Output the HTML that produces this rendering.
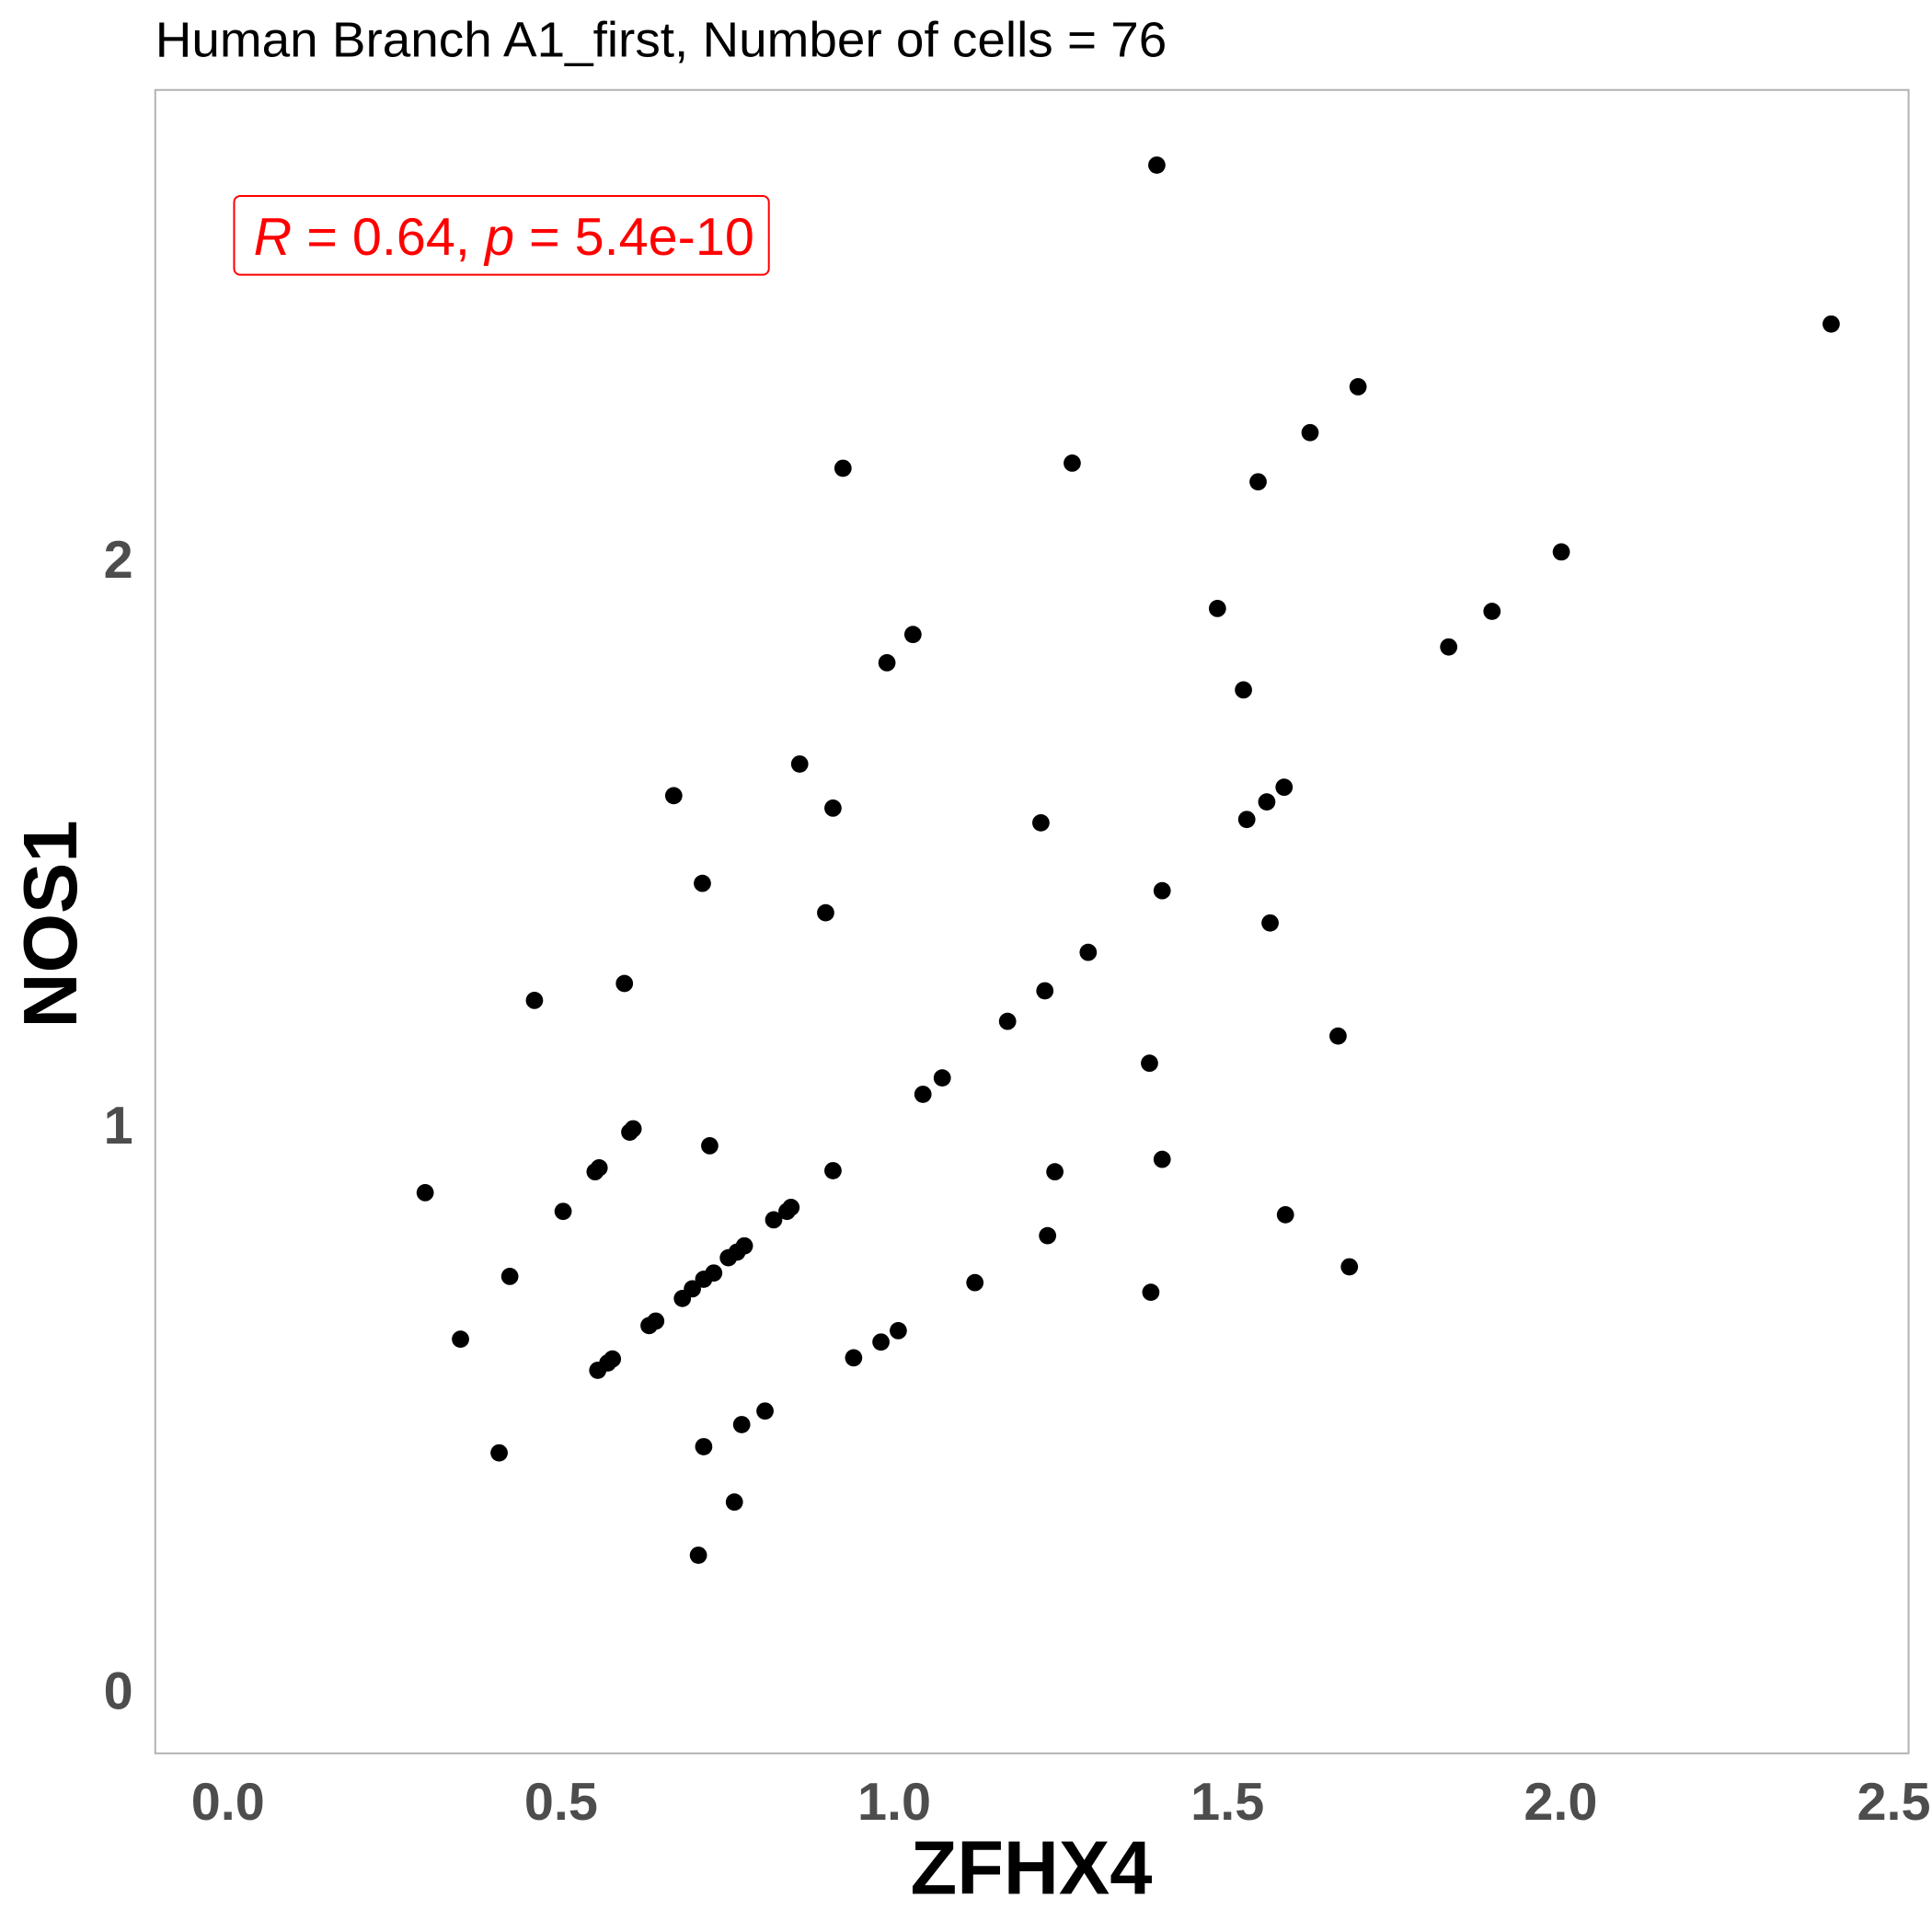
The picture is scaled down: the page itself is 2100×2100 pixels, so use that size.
<!DOCTYPE html>
<html><head><meta charset="utf-8"><style>
html,body{margin:0;padding:0;background:#fff;}
svg{display:block;font-family:"Liberation Sans",Arial,sans-serif;}
</style></head><body>
<svg id="chart" width="2100" height="2100" viewBox="0 0 1568 1568">
<text x="126" y="46" font-size="40" fill="#000" textLength="821" lengthAdjust="spacingAndGlyphs">Human Branch A1_first, Number of cells = 76</text>
<rect x="126" y="73" width="1423" height="1350" fill="none" stroke="#b3b3b3" stroke-width="1.5"/>
<g id="xticks"></g>
<g id="yticks"></g>
<g id="points"></g>
<text x="837" y="1537" font-size="62" font-weight="bold" text-anchor="middle" fill="#000">ZFHX4</text>
<text transform="translate(62,750) rotate(-90)" font-size="62" font-weight="bold" text-anchor="middle" fill="#000">NOS1</text>
<g>
<rect x="190" y="159" width="434" height="64" rx="5" fill="#fff" stroke="#ff0000" stroke-width="1.5"/>
<text x="409" y="207" font-size="43" fill="#ff0000" text-anchor="middle"><tspan font-style="italic">R</tspan> = 0.64, <tspan font-style="italic">p</tspan> = 5.4e-10</text>
</g>
</svg>
<script>
const xTickVals = [0, 0.5, 1, 1.5, 2, 2.5];
const xTickLabels = ["0.0", "0.5", "1.0", "1.5", "2.0", "2.5"];
const yTickVals = [0, 1, 2];
const yTickLabels = ["0", "1", "2"];
const zfhx4 = [1.394,2.406,1.696,1.624,0.923,1.267,1.546,2.001,1.485,1.897,1.028,0.989,1.832,1.524,0.858,0.669,0.908,1.585,1.559,1.529,1.220,0.712,1.402,0.897,1.564,1.291,0.595,0.460,1.226,1.170,1.666,1.383,1.072,1.043,0.608,0.603,0.723,1.402,0.908,1.241,0.557,0.551,0.296,0.503,0.845,0.839,0.819,1.587,0.775,0.764,0.751,1.230,1.683,0.729,0.714,0.697,0.682,0.423,1.121,1.385,0.642,0.632,1.006,0.980,0.349,0.939,0.577,0.570,0.555,0.806,0.771,0.714,0.407,0.760,0.706];
const nos1 = [2.695,2.414,2.303,2.222,2.159,2.168,2.135,2.011,1.911,1.906,1.865,1.815,1.843,1.767,1.636,1.580,1.558,1.595,1.569,1.538,1.532,1.425,1.412,1.373,1.355,1.303,1.248,1.218,1.235,1.181,1.155,1.107,1.081,1.052,0.991,0.985,0.961,0.937,0.917,0.915,0.922,0.915,0.878,0.845,0.852,0.845,0.830,0.839,0.784,0.773,0.763,0.802,0.747,0.736,0.725,0.708,0.691,0.730,0.719,0.702,0.651,0.643,0.634,0.614,0.619,0.586,0.584,0.577,0.564,0.492,0.468,0.429,0.418,0.331,0.237];
const NS = "http://www.w3.org/2000/svg";
function xs(v){ return 185 + v * 540.8; }
function ys(v){ return 1371 - v * 459; }
const xg = document.getElementById('xticks');
xTickVals.forEach((v,i)=>{
  const t = document.createElementNS(NS,'text');
  t.setAttribute('x', xs(v)); t.setAttribute('y', 1477);
  t.setAttribute('font-size','43'); t.setAttribute('font-weight','bold');
  t.setAttribute('fill','#4d4d4d'); t.setAttribute('text-anchor','middle');
  t.textContent = xTickLabels[i];
  
  
  xg.appendChild(t);
});
const yg = document.getElementById('yticks');
yTickVals.forEach((v,i)=>{
  const t = document.createElementNS(NS,'text');
  t.setAttribute('x', 108); t.setAttribute('y', ys(v) + 16);
  t.setAttribute('font-size','43'); t.setAttribute('font-weight','bold');
  t.setAttribute('fill','#4d4d4d'); t.setAttribute('text-anchor','end');
  t.textContent = yTickLabels[i];
  
  
  yg.appendChild(t);
});
const pg = document.getElementById('points');
zfhx4.forEach((v,i)=>{
  const c = document.createElementNS(NS,'circle');
  c.setAttribute('cx', xs(v)); c.setAttribute('cy', ys(nos1[i]));
  c.setAttribute('r', 7); c.setAttribute('fill', '#000');
  
  
  pg.appendChild(c);
});
</script>
</body></html>
